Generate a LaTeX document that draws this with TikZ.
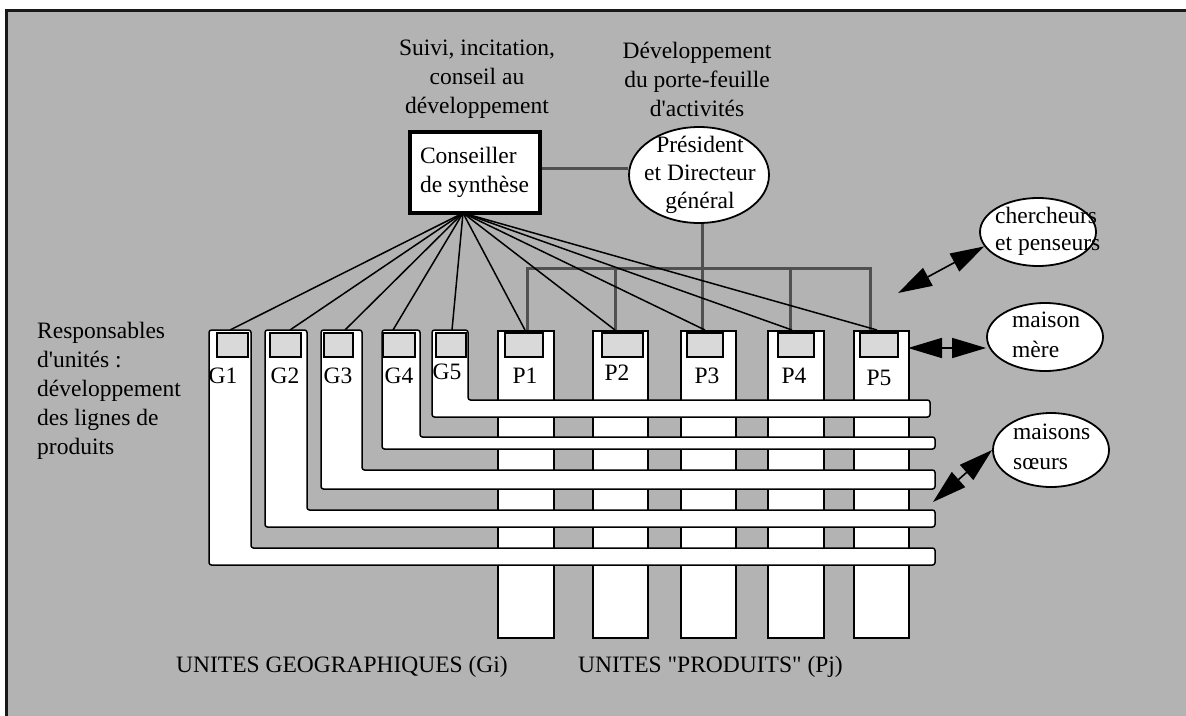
\documentclass[tikz,border=0pt]{standalone}
\usepackage{fontspec}
\setmainfont{Liberation Serif}[Ligatures=TeXOff]
\usetikzlibrary{shapes.geometric,arrows.meta,calc}
\definecolor{bg}{HTML}{B3B3B3}
\definecolor{boxfill}{HTML}{D9D9D9}
\definecolor{dark}{HTML}{505050}
\begin{document}
\begin{tikzpicture}[x=1pt,y=-1pt,
  fnt/.style={font=\fontsize{23.5}{29}\selectfont},
  txt/.style={fnt, inner sep=0pt, align=center},
  ltxt/.style={fnt, inner sep=0pt, align=left, anchor=west},
  lbl/.style={fnt, inner sep=0pt},
  col/.style={draw=black, line width=1.5pt, fill=white, inner sep=0pt, anchor=north west},
  gbox/.style={draw=black, line width=1.5pt, fill=boxfill, inner sep=0pt, minimum height=24},
  gshape/.style={draw=black, line width=1.5pt, fill=white, rounded corners=2.5pt},
  link/.style={draw=black, line width=1.5pt},
  bus/.style={draw=dark, line width=3pt},
  dbl/.style={{Triangle[length=34pt,width=20pt]}-{Triangle[length=34pt,width=20pt]}, line width=1.6pt, draw=black},
  oval/.style={ellipse, draw=black, line width=1.8pt, fill=white, inner sep=0pt},
]
\useasboundingbox (0,0) rectangle (1186,715);
\fill[white] (0,0) rectangle (1186,715);
\draw[fill=bg, draw=black!90, line width=3pt] (6,10) rectangle (1210,740);

% top labels
\node[txt] (lsuivi) at (477,79) {Suivi, incitation,\\conseil au\\développement};
\node[txt] (ldev) at (697,79) {Développement\\du porte-feuille\\d'activités};

% conseiller and president
\node[draw=black, line width=4pt, fill=white, minimum width=130, minimum height=81,
      inner sep=0pt, align=left, fnt] (cons) at (474.5,172) {Conseiller\\de synthèse};
\node[oval, minimum width=140, minimum height=96] (pdg) at (699,175) {};
\node[txt, font=\fontsize{23.5}{28}\selectfont] (pdgt) at (700,175) {Président\\et Directeur\\général};

% product columns
\node[col, minimum width=56, minimum height=307] (P1) at (497,330) {};
\node[col, minimum width=55, minimum height=307] (P2) at (592,330) {};
\node[col, minimum width=55, minimum height=307] (P3) at (680,330) {};
\node[col, minimum width=56, minimum height=307] (P4) at (767,330) {};
\node[col, minimum width=55, minimum height=307] (P5) at (853,330) {};

% geographic L-shaped units
\foreach \xl/\xr/\ya/\yb/\xe in {209/251/548/565/935, 265/307/510/527/935, 321/362/470/489/935, 382/420/437/449/935, 432/468/400/417/930}
  \draw[gshape] (\xl,330) -- (\xl,\yb) -- (\xe,\yb) -- (\xe,\ya) -- (\xr,\ya) -- (\xr,330) -- cycle;

% small boxes
\node[gbox, minimum width=31] (g1b) at (232.5,345) {};
\node[gbox, minimum width=31] (g2b) at (285.5,345) {};
\node[gbox, minimum width=29] (g3b) at (338.5,345) {};
\node[gbox, minimum width=32] (g4b) at (399,345) {};
\node[gbox, minimum width=30] (g5b) at (451,345) {};
\node[gbox, minimum width=38] (p1b) at (524,345) {};
\node[gbox, minimum width=41] (p2b) at (622.5,345) {};
\node[gbox, minimum width=36] (p3b) at (705,345) {};
\node[gbox, minimum width=36] (p4b) at (796,345) {};
\node[gbox, minimum width=38] (p5b) at (879,345) {};

% unit labels
\node[lbl] (lg1) at (223,376) {G1};
\node[lbl] (lg2) at (285,376) {G2};
\node[lbl] (lg3) at (338,376) {G3};
\node[lbl] (lg4) at (399,376) {G4};
\node[lbl] (lg5) at (447,372) {G5};
\node[lbl] (lp1) at (525,376) {P1};
\node[lbl] (lp2) at (617,373) {P2};
\node[lbl] (lp3) at (707,376) {P3};
\node[lbl] (lp4) at (794,376) {P4};
\node[lbl] (lp5) at (879,378) {P5};

% president bus
\coordinate (busy) at (0,268);
\coordinate (liney) at (0,168);
\foreach \x [count=\i] in {527,615,702,790,870} \coordinate (b\i) at (\x,330);
\draw[bus] (cons.east |- liney) -- (pdg.west |- liney);
\draw[bus] (pdg.south -| b3) -- (b3);
\draw[bus] (b1) -- (b1 |- busy) -- (b5 |- busy) -- (b5);
\draw[bus] (b2 |- busy) -- (b2);
\draw[bus] (b4 |- busy) -- (b4);

% conseiller links
\coordinate (hub) at (463,213);
\foreach \x [count=\i] in {230,290,345,393,452} \coordinate (tg\i) at (\x,330);
\foreach \x [count=\i] in {525,615,705,792,877} \coordinate (tp\i) at (\x,330);
\foreach \i in {1,...,5} { \draw[link] (hub) -- (tg\i); \draw[link] (hub) -- (tp\i); }

% left and bottom texts
\node[ltxt] (lresp) at (37,391) {Responsables\\d'unités :\\développement\\des lignes de\\produits};
\node[lbl, anchor=west] (lug) at (176,667) {UNITES GEOGRAPHIQUES (Gi)};
\node[lbl, anchor=west] (lup) at (578,667) {UNITES "PRODUITS" (Pj)};

% right ellipses
\node[oval, minimum width=116, minimum height=68] (cher) at (1038,232) {};
\node[ltxt, font=\fontsize{23.5}{27}\selectfont] (chert) at (995,231.5) {chercheurs\\et penseurs};
\node[oval, minimum width=116, minimum height=68] (mere) at (1045,337) {};
\node[ltxt, font=\fontsize{23.5}{30}\selectfont] (meret) at (1012,335) {maison\\mère};
\node[oval, minimum width=116, minimum height=74] (soeurs) at (1051,450) {};
\node[ltxt, font=\fontsize{23.5}{30}\selectfont] (soeurst) at (1013,447) {maisons\\sœurs};

% arrows
\coordinate (ca) at (898,293);
\coordinate (ma) at (908,348);
\coordinate (sa) at (933,502);
\draw[dbl] (ca) -- (cher.195);
\draw[dbl] (ma) -- (mere.west |- ma);
\draw[dbl] (sa) -- (soeurs.west);
\end{tikzpicture}
\end{document}
